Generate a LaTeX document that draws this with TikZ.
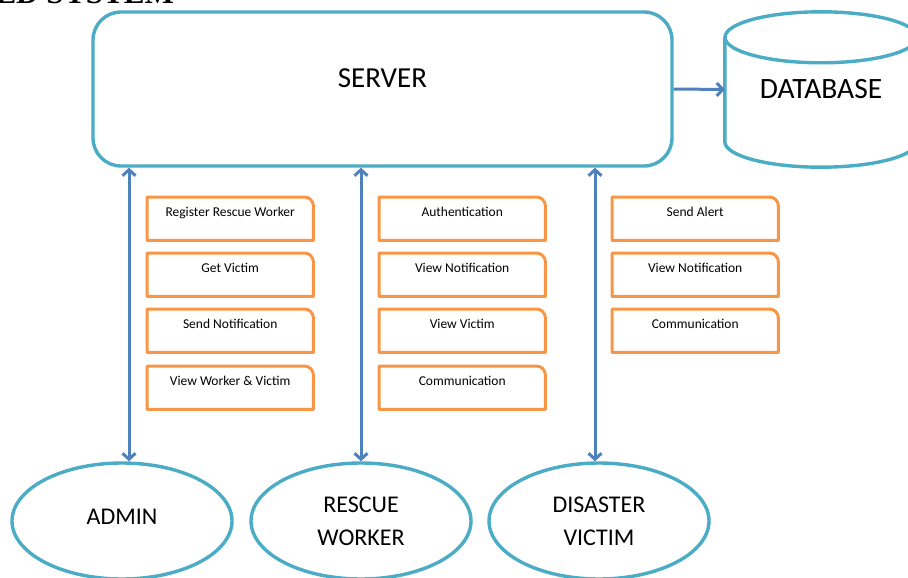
\documentclass[tikz,border=0pt]{standalone}
\usepackage{fontspec}
\setmainfont{Carlito}
\newfontfamily\titlefont{Liberation Serif}
\usetikzlibrary{arrows.meta,shapes.geometric}
\definecolor{teal1}{HTML}{4BACC6}
\definecolor{blue1}{HTML}{4F81BD}
\definecolor{orng}{HTML}{F79646}
\begin{document}
\begin{tikzpicture}[x=1pt,y=-1pt,
  tealline/.style={draw=teal1,line width=3.4pt},
  arr/.style={draw=blue1,line width=3pt,-{Straight Barb[length=6pt,width=13pt,line width=3pt]}},
  dbl/.style={draw=blue1,line width=3pt,{Straight Barb[length=6pt,width=13pt,line width=3pt]}-{Straight Barb[length=6pt,width=13pt,line width=3pt]}},
  actor/.style={ellipse,tealline,minimum width=220pt,minimum height=116pt,inner sep=0pt,font=\fontsize{24}{32}\selectfont,align=center},
  obox/.style={rectangle,inner sep=0pt,minimum width=166pt,text height=19pt,text depth=24pt,anchor=north west,font=\fontsize{13.5}{16}\selectfont},
  oline/.style={draw=orng,line width=3pt,line join=round}
]
\useasboundingbox (0,0) rectangle (908,578);
\fill[white] (0,0) rectangle (908,578);

% title (cropped at the top edge, as in the reference)
\node[anchor=base east,inner sep=0pt,font=\titlefont\bfseries\fontsize{31}{36}\selectfont] (title) at (174,3.5) {ED SYSTEM};

% server
\node[rectangle,rounded corners=28pt,tealline,minimum width=579pt,minimum height=154pt,inner sep=0pt,
      font=\fontsize{29}{34}\selectfont,text height=19.5pt,text depth=22pt] (server) at (382.5,89) {SERVER};

% database
\node[rectangle,minimum width=192pt,minimum height=155pt,inner sep=0pt,font=\fontsize{29.5}{34}\selectfont] (db) at (821,89.5) {DATABASE};
\draw[tealline] ([yshift=-25.5pt]db.north) ellipse [x radius=96pt,y radius=25.5pt];
\draw[tealline] ([yshift=-25.5pt]db.north west) -- ([yshift=25.5pt]db.south west)
  arc[start angle=180,end angle=360,x radius=96pt,y radius=25.5pt] -- ([yshift=-25.5pt]db.north east);

\draw[arr] (server.east) -- (db.west);

% actors
\node[actor] (admin) at (122,521) {\raisebox{8pt}{ADMIN}};
\node[actor] (rescue) at (361,521) {RESCUE\\[1pt]WORKER};
\node[actor] (victim) at (599,521) {DISASTER\\[1pt]VICTIM};

\coordinate (c1) at (129,300);
\coordinate (c2) at (361,300);
\coordinate (c3) at (595,300);
\draw[dbl] (server.south -| c1) -- (c1 |- admin.north);
\draw[dbl] (server.south -| c2) -- (c2 |- rescue.north);
\draw[dbl] (server.south -| c3) -- (c3 |- victim.north);

% function boxes
\node[obox] (a1) at (147,197) {Register Rescue Worker};
\node[obox] (a2) at (147,253) {Get Victim};
\node[obox] (a3) at (147,309) {Send Notification};
\node[obox] (a4) at (147,366) {View Worker \& Victim};
\node[obox] (b1) at (379,197) {Authentication};
\node[obox] (b2) at (379,253) {View Notification};
\node[obox] (b3) at (379,309) {View Victim};
\node[obox] (b4) at (379,366) {Communication};
\node[obox] (d1) at (612,197) {Send Alert};
\node[obox] (d2) at (612,253) {View Notification};
\node[obox] (d3) at (612,309) {Communication};
\foreach \n in {a1,a2,a3,a4,b1,b2,b3,b4,d1,d2,d3}{
  \draw[oline] (\n.south west) -- (\n.north west) -- ([xshift=-9pt]\n.north east)
    arc[start angle=90,end angle=0,radius=9pt] -- (\n.south east) -- cycle;
}
\end{tikzpicture}
\end{document}
